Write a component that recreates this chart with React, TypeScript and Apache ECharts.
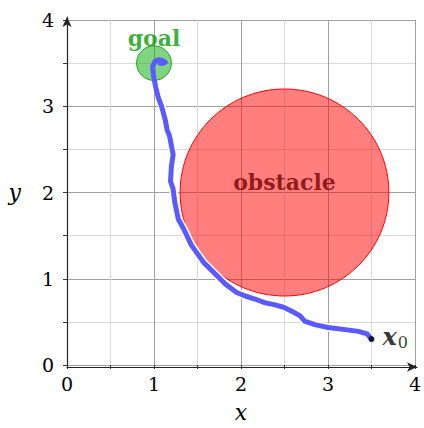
import React, { useEffect, useRef } from "react";
import * as echarts from "echarts";

// Axis ranges and ticks
const xRange = [0, 4];
const yRange = [0, 4];
const tickInterval = 1;

// Obstacle and goal circles: [cx, cy, r]
const obstacle = [[2.5, 2, 1.2]];
const goal = [[1, 3.5, 0.2]];

// Start point
const start = [[3.5, 0.3]];

// Trajectory from x0 to the goal
const pathX = [3.5, 3.45, 3.35, 3.2, 3.0, 2.86, 2.73, 2.68, 2.59, 2.49, 2.38, 2.28, 2.16, 2.05, 1.95, 1.82, 1.72, 1.57, 1.43, 1.34, 1.28, 1.24, 1.22, 1.19, 1.2, 1.22, 1.18, 1.15, 1.13, 1.09, 1.05, 1.02, 0.995, 0.985, 1.01, 1.05, 1.1, 1.13, 1.1, 1.07];
const pathY = [0.3, 0.36, 0.39, 0.41, 0.435, 0.465, 0.51, 0.57, 0.62, 0.67, 0.7, 0.72, 0.765, 0.8, 0.84, 0.94, 1.04, 1.19, 1.39, 1.58, 1.69, 1.88, 2.04, 2.13, 2.3, 2.44, 2.65, 2.73, 2.84, 2.99, 3.1, 3.22, 3.35, 3.46, 3.52, 3.54, 3.53, 3.51, 3.495, 3.5];

// Text labels: [x, y, text]
const obstacleLabel = [[2.5, 2.12, "obstacle"]];
const goalLabel = [[1.0, 3.79, "goal"]];

const serif = "DejaVu Serif";
const dserif = "DejaVu Serif";

export default function App() {
  const ref = useRef<HTMLDivElement>(null);
  useEffect(() => {
    if (!ref.current) return;
    const chart = echarts.init(ref.current, null, { renderer: "svg" });
    const pathData = pathX.map((x, i) => [x, pathY[i]]);
    const circleRender = (fill: string, stroke: string) => (params: any, api: any) => {
      const c = api.coord([api.value(0), api.value(1)]);
      const r = api.size([api.value(2), api.value(2)]);
      return {
        type: "ellipse",
        shape: { cx: c[0], cy: c[1], rx: r[0], ry: r[1] },
        style: { fill, stroke, lineWidth: 1 },
      };
    };
    const mainAxis = (range: number[], isX: boolean) => ({
      type: "value",
      gridIndex: 0,
      min: range[0],
      max: range[1],
      interval: tickInterval,
      axisLine: { show: false },
      axisTick: { show: true, length: 4, lineStyle: { color: "#333" } },
      minorTick: { show: true, splitNumber: 2, length: 4, lineStyle: { color: "#333" } },
      splitLine: { show: true, lineStyle: { color: "#a0a0a0", width: 1 } },
      minorSplitLine: { show: true, lineStyle: { color: "#d9d9d9", width: 1 } },
      axisLabel: { fontFamily: serif, fontSize: 19, color: "#000", margin: isX ? 9 : 13 },
      name: isX ? "x" : "y",
      nameLocation: "middle",
      nameRotate: 0,
      nameGap: isX ? 36 : 46,
      nameTextStyle: {
        fontFamily: dserif,
        fontStyle: "italic",
        fontSize: 22,
        color: "#000",
        padding: isX ? 0 : [0, 0, 12, 0],
      },
    });
    const arrowAxis = {
      type: "value",
      gridIndex: 1,
      min: 0,
      max: 1,
      axisLine: { show: true, symbol: ["none", "arrow"], symbolSize: [7, 10], lineStyle: { color: "#222", width: 1.2 } },
      axisTick: { show: false },
      axisLabel: { show: false },
      splitLine: { show: false },
    };
    const option: any = {
      animation: false,
      grid: [
        { left: 67, right: 9, top: 20, bottom: 61 },
        { left: 67, right: 7, top: 17, bottom: 61 },
      ],
      xAxis: [mainAxis(xRange, true), arrowAxis],
      yAxis: [mainAxis(yRange, false), arrowAxis],
      series: [
        {
          type: "custom",
          xAxisIndex: 0,
          yAxisIndex: 0,
          z: 2,
          data: obstacle,
          renderItem: circleRender("rgba(255,0,0,0.5)", "#ff0000"),
        },
        {
          type: "custom",
          xAxisIndex: 0,
          yAxisIndex: 0,
          z: 2,
          data: goal,
          renderItem: circleRender("rgba(0,170,0,0.5)", "#22a022"),
        },
        {
          type: "line",
          xAxisIndex: 0,
          yAxisIndex: 0,
          z: 3,
          data: pathData.slice(0, 30),
          showSymbol: false,
          lineStyle: { color: "#ffffff", width: 8, cap: "round", join: "round" },
        },
        {
          type: "line",
          xAxisIndex: 0,
          yAxisIndex: 0,
          z: 4,
          data: pathData,
          showSymbol: false,
          lineStyle: { color: "#5a5aff", width: 5, cap: "round", join: "round" },
        },
        {
          type: "scatter",
          xAxisIndex: 0,
          yAxisIndex: 0,
          z: 5,
          data: start,
          symbolSize: 6,
          itemStyle: { color: "#000" },
          label: {
            show: true,
            position: "right",
            distance: 8,
            offset: [0, -3],
            formatter: "{a|x}{b|0}",
            rich: {
              a: { fontFamily: dserif, fontStyle: "italic", fontWeight: "bold", fontSize: 24, color: "#000" },
              b: { fontFamily: serif, fontSize: 16, color: "#000", padding: [12, 0, 0, 1] },
            },
          },
        },
        {
          type: "scatter",
          xAxisIndex: 0,
          yAxisIndex: 0,
          z: 6,
          data: obstacleLabel,
          symbolSize: 0,
          label: {
            show: true,
            position: "inside",
            formatter: (p: any) => p.value[2],
            fontFamily: dserif,
            fontWeight: "bold",
            fontSize: 22,
            color: "#760000",
          },
        },
        {
          type: "scatter",
          xAxisIndex: 0,
          yAxisIndex: 0,
          z: 6,
          data: goalLabel,
          symbolSize: 0,
          label: {
            show: true,
            position: "inside",
            formatter: (p: any) => p.value[2],
            fontFamily: dserif,
            fontWeight: "bold",
            fontSize: 22,
            color: "#099a09",
          },
        },
      ],
    };
    chart.setOption(option);
    return () => chart.dispose();
  }, []);
  return (
    <div
      ref={ref}
      style={{ position: "fixed", left: 0, top: 0, width: 424, height: 428, background: "#fff" }}
    />
  );
}
